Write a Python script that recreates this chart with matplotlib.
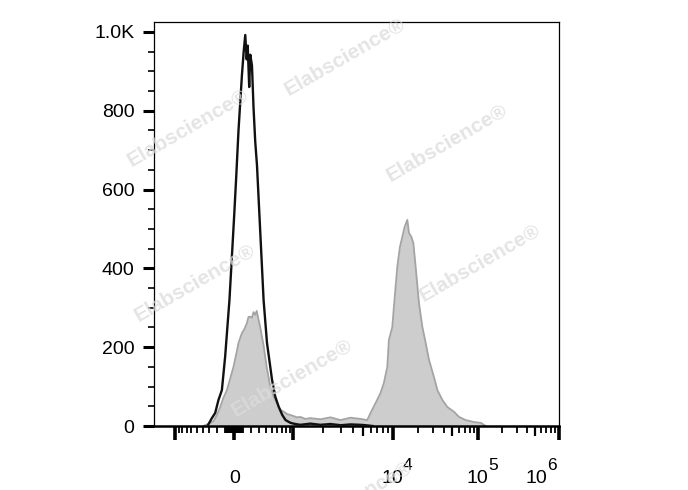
import numpy as np
import matplotlib
matplotlib.use("Agg")
import matplotlib.pyplot as plt
from matplotlib.transforms import offset_copy

plt.rcParams['font.family'] = ['Liberation Sans', 'DejaVu Sans']

# histogram of the unstained control (black outline)
black_x = [-317, -265, -222, -181, -140, -102, -53, -22, 0, 22, 48, 87, 107, 125,
           142, 154, 172, 185, 206, 226, 248, 271, 317, 365, 418, 473, 504, 565,
           635, 710, 788, 917, 1047, 1177, 1485, 1874, 2364, 3000, 3765, 4750,
           5340, 6280]
black_y = [3, 20, 33, 66, 91, 176, 320, 445, 535, 630, 750, 891, 950, 992,
           930, 965, 860, 942, 915, 807, 721, 662, 490, 320, 211, 150, 117, 74,
           48, 28, 15, 8, 5, 3, 6, 3, 5, 2, 4, 3, 2, 0]

# histogram of the stained sample (grey filled)
gray_x = [-390, -317, -244, -201, -160, -121, -82, -45, -8, 30, 48, 87, 113, 145,
          164, 185, 206, 226, 248, 268, 293, 317, 341, 365, 390, 418, 444, 473,
          504, 534, 565, 635, 673, 747, 832, 917, 1090, 1177, 1322, 1485, 1874,
          2364, 2983, 3765, 4752, 5552, 5995, 6734, 7566, 8170, 8842, 9175, 9931,
          10359, 11359, 12186, 13009, 13841, 14892, 15553, 16596, 17519, 18642,
          20391, 22364, 24450, 26739, 30612, 33568, 38431, 43995, 52625, 60256,
          72243, 90470, 108900, 125500]
gray_y = [0, 5, 12, 28, 48, 72, 91, 120, 150, 190, 211, 236, 245, 261,
          277, 277, 275, 289, 282, 292, 269, 250, 226, 205, 175, 145, 124, 100,
          91, 74, 66, 48, 41, 36, 30, 28, 22, 23, 18, 20, 17,
          22, 15, 21, 18, 15, 33, 58, 84, 109, 150, 218, 251,
          302, 404, 454, 480, 505, 523, 490, 480, 464, 404,
          312, 251, 211, 168, 124, 91, 66, 48, 36, 23,
          15, 10, 8, 0]

y_ticks = [0, 200, 400, 600, 800, 1000]
y_labels = ['0', '200', '400', '600', '800', '1.0K']
x_major = [-1000, 0, 1000, 1e4, 1e5, 1e6]
x_pow = [(1e4, '4'), (1e5, '5'), (1e6, '6')]
x_medium = [5e3, 5e4, 5e5]
x_minor = ([-k * 100 for k in range(1, 10)] + [-k * 10 for k in range(1, 10)] +
           [k * 10 for k in range(1, 10)] + [k * 100 for k in range(1, 10)] +
           [m * 10 ** e for e in (3, 4, 5) for m in (2, 3, 4, 6, 7, 8, 9)])


# biexponential-like display: asinh near zero, log decades above 1000
LIN_W = 59
DEC_POS = [59, 158, 243, 324, 405]
C = 400.0


def biex(x):
    x = np.asarray(x, dtype=float)
    a = np.abs(x)
    lin = LIN_W * np.arcsinh(a / C) / np.arcsinh(1000 / C)
    hi = np.interp(np.log10(np.maximum(a, 1000)), [3, 4, 5, 6, 7], DEC_POS)
    return np.sign(x) * np.where(a <= 1000, lin, hi)


_grid = C * np.sinh(np.linspace(-12, 18, 40001))
_grid_pos = biex(_grid)


def biex_inv(p):
    return np.interp(np.asarray(p, dtype=float), _grid_pos, _grid)


fig = plt.figure(figsize=(6.88, 4.9), dpi=100)
ax = fig.add_axes([154 / 688, 1 - 426 / 490, 405 / 688, 404 / 490])

ax.fill_between(gray_x, gray_y, color='#cdcdcd', lw=0, zorder=1)
ax.plot(gray_x, gray_y, color='#a4a4a4', lw=1.3, zorder=2)
ax.plot(black_x, black_y, color='#111111', lw=1.7, zorder=3)

ax.set_xscale('function', functions=(biex, biex_inv))
ax.set_xlim(-1630, 1e6)
ax.set_ylim(0, 1025)

ax.set_yticks(y_ticks, labels=y_labels)
ax.set_yticks(np.arange(0, 1001, 50), minor=True)
ax.tick_params(axis='y', which='major', direction='out', length=8, width=2.2,
               labelsize=14, pad=6)
ax.tick_params(axis='y', which='minor', direction='out', length=4, width=1.2)

ax.set_xticks(x_major, labels=[''] * len(x_major))
ax.set_xticks(x_minor, minor=True)
ax.tick_params(axis='x', which='major', direction='out', length=10, width=2.6)
ax.tick_params(axis='x', which='minor', direction='out', length=5, width=1.3)

for s in ['top', 'right', 'left']:
    ax.spines[s].set_linewidth(0.9)
ax.spines['bottom'].set_linewidth(1.8)

# medium ticks at 5 x 10^n
ax2 = ax.twiny()
ax2.set_xscale('function', functions=(biex, biex_inv))
ax2.set_xlim(ax.get_xlim())
ax2.xaxis.set_ticks_position('bottom')
ax2.set_xticks(x_medium, labels=[''] * len(x_medium))
ax2.tick_params(axis='x', which='major', direction='out', length=7, width=1.6)
ax2.tick_params(axis='x', which='minor', length=0)
for s in ax2.spines.values():
    s.set_visible(False)

# x labels: "0" and 10^n with a large exponent
xt = ax.get_xaxis_transform()
ax.text(0, -0.142, '0', transform=xt, fontsize=14, ha='center', va='baseline')
for v, p in x_pow:
    dx = -16 if v == 1e6 else 0
    ax.text(v, -0.142, '10', fontsize=14, ha='center', va='baseline',
            transform=offset_copy(xt, fig=fig, x=dx, y=0, units='points'))
    ax.text(v, -0.142, p, fontsize=12.5, ha='left', va='baseline',
            transform=offset_copy(xt, fig=fig, x=dx + 7.4, y=9.4, units='points'))

# watermark
marks = [(345, 57), (188, 128), (447, 143), (195, 283), (480, 263), (292, 378), (352, 500)]
for mx, my in marks:
    fig.text(mx / 688, 1 - my / 490, 'Elabscience\u00ae', rotation=30,
             rotation_mode='anchor', ha='center', va='center', fontsize=15,
             fontweight='bold', color='#dcdcdc', alpha=0.75, zorder=5)

fig.savefig('out.png', dpi=100)
